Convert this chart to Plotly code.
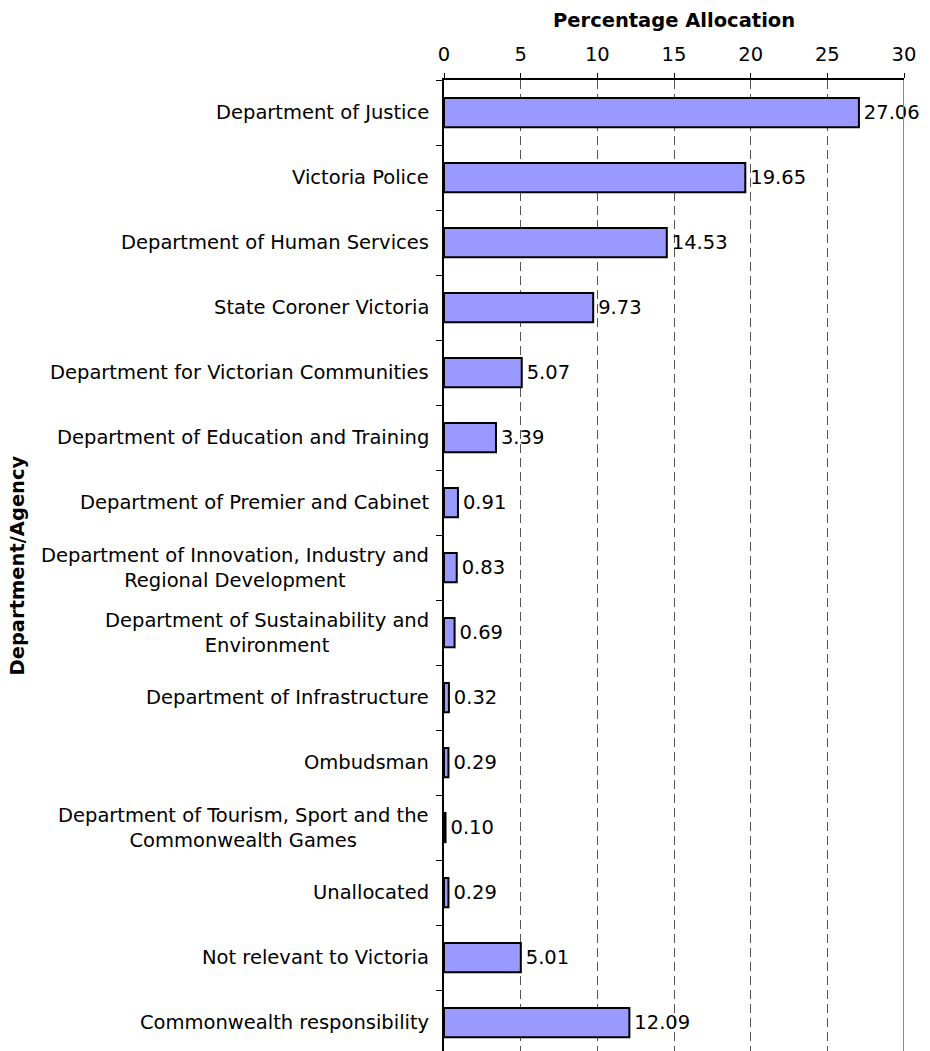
import plotly.graph_objects as go

categories = [
    "Department of Justice",
    "Victoria Police",
    "Department of Human Services",
    "State Coroner Victoria",
    "Department for Victorian Communities",
    "Department of Education and Training",
    "Department of Premier and Cabinet",
    "Department of Innovation, Industry and<br>Regional Development",
    "Department of Sustainability and<br>Environment",
    "Department of Infrastructure",
    "Ombudsman",
    "Department of Tourism, Sport and the<br>Commonwealth Games",
    "Unallocated",
    "Not relevant to Victoria",
    "Commonwealth responsibility",
]
values = [27.06, 19.65, 14.53, 9.73, 5.07, 3.39, 0.91, 0.83, 0.69, 0.32, 0.29, 0.10, 0.29, 5.01, 12.09]
value_labels = ["27.06", "19.65", "14.53", "9.73", "5.07", "3.39", "0.91", "0.83", "0.69",
                "0.32", "0.29", "0.10", "0.29", "5.01", "12.09"]
x_ticks = [0, 5, 10, 15, 20, 25, 30]

FONT = "DejaVu Sans"
FS = 19.5
W, H = 930, 1051
ML, MR, MT, MB = 444, 26, 80, 0
plot_h = H - MT - MB

fig = go.Figure()
fig.add_trace(go.Bar(
    y=categories, x=values, orientation="h",
    width=0.45,
    marker=dict(color="#9999FF", line=dict(color="black", width=2)),
    text=value_labels, texttemplate="\u200a%{text}",
    textposition="outside", cliponaxis=False,
    constraintext="none",
    textfont=dict(family=FONT, size=FS, color="black"),
    hoverinfo="skip",
))

# category labels as annotations (centered multi-line)
for c in categories:
    fig.add_annotation(
        x=0, xref="paper", y=c, yref="y", text=c, showarrow=False,
        xanchor="right", yanchor="middle", align="center", xshift=-13,
        font=dict(family=FONT, size=FS, color="black"),
    )

# axis titles
fig.add_annotation(
    x=0.5, xref="paper", y=1 + 60 / plot_h, yref="paper",
    text="<b>Percentage Allocation</b>", showarrow=False,
    xanchor="center", yanchor="middle",
    font=dict(family=FONT, size=FS, color="black"),
)
fig.add_annotation(
    x=-(ML - 17) / (W - ML - MR), xref="paper", y=0.5, yref="paper",
    text="<b>Department/Agency</b>", showarrow=False, textangle=-90,
    xanchor="center", yanchor="middle",
    font=dict(family=FONT, size=FS, color="black"),
)

fig.add_shape(type="line", xref="x", yref="paper", x0=30, x1=30, y0=0, y1=1,
              line=dict(color="#888888", width=2))

fig.update_layout(
    width=W, height=H,
    margin=dict(l=ML, r=MR, t=MT, b=MB, pad=0),
    paper_bgcolor="white", plot_bgcolor="white",
    showlegend=False, bargap=0.55,
    font=dict(family=FONT, size=FS, color="black"),
    xaxis=dict(
        side="top", range=[0, 30], tickvals=x_ticks,
        ticks="outside", ticklen=5, tickcolor="black", tickwidth=1,
        ticklabelstandoff=4,
        showline=True, linecolor="black", linewidth=1.5,
        showgrid=True, gridcolor="#555555", gridwidth=1, griddash="9px,5px",
        zeroline=False, tickfont=dict(family=FONT, size=FS, color="black"),
    ),
    yaxis=dict(
        categoryorder="array", categoryarray=categories,
        range=[len(categories) - 0.5 - (15 * 65 - plot_h) / 65, -0.5],
        showticklabels=False, ticks="outside", tickson="boundaries",
        ticklen=6, tickcolor="black",
        showline=True, linecolor="black", linewidth=1.5,
        showgrid=False, zeroline=False,
    ),
)

fig.write_html(
    "out.html",
    config={"displayModeBar": False},
    post_script="document.body.style.margin='0';document.body.style.overflow='hidden';",
)
